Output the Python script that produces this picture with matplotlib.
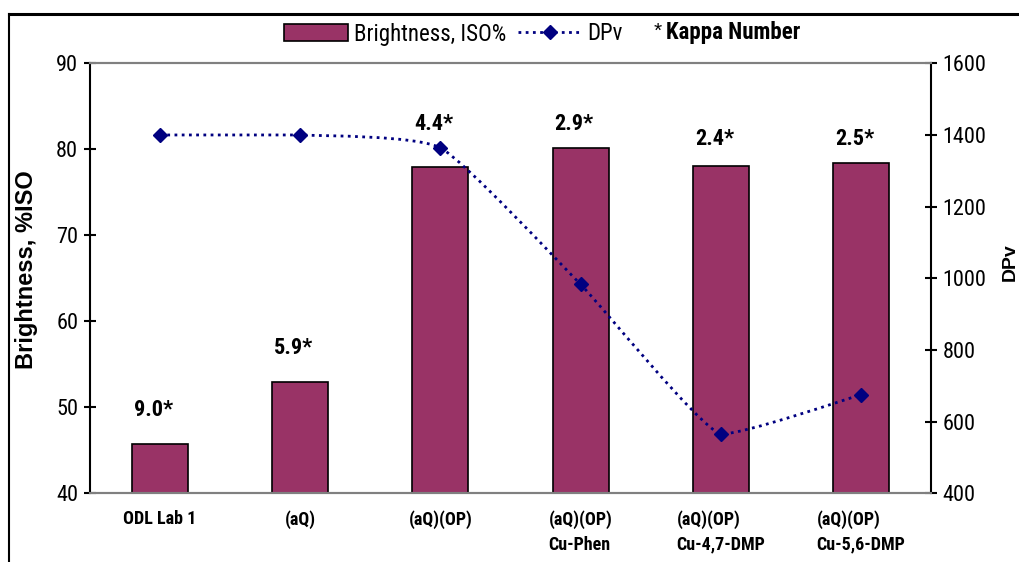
import matplotlib
matplotlib.use("Agg")
import matplotlib.pyplot as plt
from matplotlib.path import Path
from matplotlib.patches import PathPatch, Patch
from matplotlib.lines import Line2D
import matplotlib.font_manager as fm

categories = ["ODL Lab 1", "(aQ)", "(aQ)(OP)", "(aQ)(OP)\nCu-Phen",
              "(aQ)(OP)\nCu-4,7-DMP", "(aQ)(OP)\nCu-5,6-DMP"]
brightness = [45.7, 52.9, 78.0, 80.2, 78.1, 78.4]
dpv = [1400, 1400, 1364, 983, 565, 675]
kappa_labels = ["9.0*", "5.9*", "4.4*", "2.9*", "2.4*", "2.5*"]
kappa_label_y = [49.7, 56.9, 83.0, 83.0, 81.2, 81.2]

# pick a narrow font (Arial Narrow look) that has regular and bold
fonts = {}
for f in fm.fontManager.ttflist:
    fonts.setdefault(f.name, set()).add(f.weight)
narrow = "Liberation Sans"
for cand in ["Liberation Sans Narrow", "Roboto Condensed", "Archivo Narrow",
             "Fira Sans Condensed", "Encode Sans Condensed", "Barlow Semi Condensed"]:
    w = fonts.get(cand, set())
    if 400 in w and 700 in w:
        narrow = cand
        break
regular = "Liberation Sans"

W, H = 1019, 562
fig = plt.figure(figsize=(W / 100, H / 100), dpi=100)
ax = fig.add_axes([90 / W, 1 - 493.3 / H, (931 - 90) / W, (493.3 - 63.3) / H])
ax2 = ax.twinx()

x = list(range(len(categories)))
bar_color = "#993366"
ax.bar(x, brightness, width=0.4, color=bar_color, edgecolor="black", linewidth=1.2, zorder=2)
ax.set_xlim(-0.5, len(categories) - 0.5)
ax.set_ylim(40, 90)
ax.set_yticks([40, 50, 60, 70, 80, 90])
ax2.set_ylim(400, 1600)
ax2.set_yticks(range(400, 1601, 200))

# smoothed DPv line (mild Bezier smoothing through the data points, no overshoot)
line_color = "#000080"
verts = [(x[0], dpv[0])]
codes = [Path.MOVETO]
n = len(x)
k = 1 / 12
for i in range(n - 1):
    p0 = (x[i - 1], dpv[i - 1]) if i > 0 else (x[i], dpv[i])
    p1 = (x[i], dpv[i])
    p2 = (x[i + 1], dpv[i + 1])
    p3 = (x[i + 2], dpv[i + 2]) if i + 2 < n else p2
    lo, hi = min(p1[1], p2[1]), max(p1[1], p2[1])
    c1 = (p1[0] + (p2[0] - p0[0]) * k, min(max(p1[1] + (p2[1] - p0[1]) * k, lo), hi))
    c2 = (p2[0] - (p3[0] - p1[0]) * k, min(max(p2[1] - (p3[1] - p1[1]) * k, lo), hi))
    verts += [c1, c2, p2]
    codes += [Path.CURVE4] * 3
ax2.add_patch(PathPatch(Path(verts, codes), facecolor="none", edgecolor=line_color,
                        linewidth=2.0, linestyle=(0, (1, 1.6)), zorder=3))
ax2.plot(x, dpv, linestyle="none", marker="D", markersize=7.5, color=line_color, zorder=4)

# kappa labels
for xi, lab, ly in zip(x, kappa_labels, kappa_label_y):
    ax.text(xi - 0.045, ly, lab, ha="center", va="center", fontsize=16,
            fontweight="bold", family=narrow, zorder=5)

# spines and ticks
for a in (ax, ax2):
    a.spines["top"].set_color("#808080")
    a.spines["bottom"].set_color("#808080")
    a.spines["top"].set_linewidth(1.5)
    a.spines["bottom"].set_linewidth(1.5)
ax.spines["left"].set_linewidth(1.5)
ax2.spines["right"].set_linewidth(1.5)
ax.spines["right"].set_visible(False)
ax2.spines["left"].set_visible(False)

ax.tick_params(axis="y", direction="inout", length=9, width=1.5, labelsize=16, pad=4)
ax2.tick_params(axis="y", direction="inout", length=9, width=1.5, labelsize=16, pad=4)
for lbl in ax.get_yticklabels() + ax2.get_yticklabels():
    lbl.set_family(narrow)

ax.set_xticks(x)
ax.set_xticklabels(categories, fontsize=13, fontweight="bold", family=narrow,
                   multialignment="left", linespacing=1.5)
ax.tick_params(axis="x", length=0, pad=12)

# axis titles
fig.text(27 / W, 1 - 270 / H, "Brightness, %ISO", rotation=90, ha="center", va="center",
         fontsize=17, fontweight="bold", family=regular)
fig.text(1002 / W, 1 - 262 / H, "DPv", rotation=90, ha="left", va="center",
         fontsize=14, fontweight="bold", family=regular)

# legend
handles = [Patch(facecolor=bar_color, edgecolor="black", linewidth=1.2),
           Line2D([0], [0], color=line_color, linestyle=(0, (1, 1.6)), linewidth=2.0,
                  marker="D", markersize=7.5)]
leg = fig.legend(handles, ["Brightness, ISO%", "DPv"], loc="center left",
                 bbox_to_anchor=(284 / W, 1 - 34 / H), ncol=2, frameon=False,
                 prop={"family": narrow, "size": 16.5}, handlelength=2.8,
                 handletextpad=0.25, columnspacing=0.5, handleheight=0.75,
                 borderpad=0, borderaxespad=0)
fig.text(654 / W, 1 - 31 / H, "*", ha="left", va="center", fontsize=15, family=regular)
fig.text(666 / W, 1 - 33 / H, "Kappa Number", ha="left", va="center", fontsize=16.5,
         fontweight="bold", family=narrow)

# outer frame (partially visible)
fig.add_artist(Line2D([9 / W, 1.0], [1 - 14 / H, 1 - 14 / H], transform=fig.transFigure,
                      color="black", linewidth=2.2))
fig.add_artist(Line2D([9 / W, 9 / W], [1 - 14 / H, 0.0], transform=fig.transFigure,
                      color="black", linewidth=1.5))

fig.savefig("out.png", dpi=100)
